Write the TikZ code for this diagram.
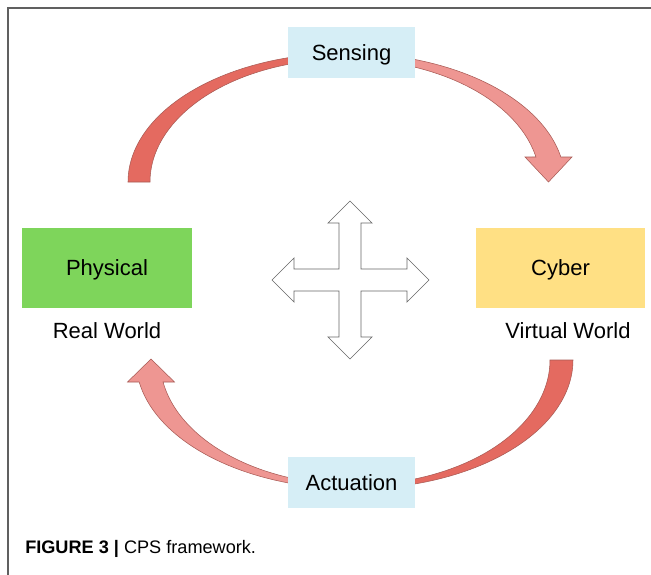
\documentclass[tikz,border=0pt]{standalone}
\usepackage{fontspec}
\setmainfont{Liberation Sans}
\definecolor{skyb}{HTML}{D6EEF6}
\definecolor{grn}{HTML}{7ED55B}
\definecolor{yel}{HTML}{FFE084}
\definecolor{arrD}{HTML}{E46A60}
\definecolor{arrL}{HTML}{EE9692}
\definecolor{arrE}{HTML}{A85A54}
\definecolor{frm}{HTML}{606060}
\begin{document}
\begin{tikzpicture}[x=0.75pt,y=-0.75pt,
  lab/.style={font=\fontsize{16.5}{18}\selectfont, text height=11.8pt, text depth=0pt, inner sep=0pt},
  stagebox/.style={lab, fill=skyb, minimum width=95.25pt, minimum height=38.25pt},
  worldbox/.style={lab, minimum width=127.5pt, minimum height=60pt},
  arcshape/.style={draw=arrE, line width=0.4pt},
  crossshape/.style={fill=white, draw=gray!80!black, line width=0.5pt}
]
\useasboundingbox (0,0) rectangle (651,575);
\fill[white] (0,0) rectangle (651,575);
% frame
\draw[frm, line width=0.9pt] (8,575) -- (8,8) -- (651,8);

% top arc, left (dark) piece
\path[arcshape, fill=arrD] plot[domain=180:90, samples=60] ({346.5+218.5*cos(\x)},{182-129*sin(\x)})
  -- plot[domain=90:180, samples=60] ({345+195*cos(\x)},{182-123*sin(\x)}) -- cycle;
% top arc, right (light) piece with head
\path[arcshape, fill=arrL] plot[domain=90:11.17, samples=60] ({346.5+218.5*cos(\x)},{182-129*sin(\x)})
  -- (572,157) -- (548.5,182) -- (525,157)
  -- plot[domain=11.73:90, samples=60] ({345+195*cos(\x)},{182-123*sin(\x)}) -- cycle;
% bottom arc, right (dark) piece
\path[arcshape, fill=arrD] plot[domain=0:90, samples=60] ({354.5+218.5*cos(\x)},{360+129*sin(\x)})
  -- plot[domain=90:0, samples=60] ({355+195*cos(\x)},{360+125*sin(\x)}) -- cycle;
% bottom arc, left (light) piece with head
\path[arcshape, fill=arrL] plot[domain=90:170.18, samples=60] ({354.5+218.5*cos(\x)},{360+129*sin(\x)})
  -- (127.5,382) -- (151,359) -- (174.5,382)
  -- plot[domain=169.86:90, samples=60] ({355+195*cos(\x)},{360+125*sin(\x)}) -- cycle;

% boxes
\node[stagebox] (sensing) at (351.5,52.5) {Sensing};
\node[stagebox] (actuation) at (351.5,482.5) {Actuation};
\node[worldbox, fill=grn] (physical) at (107,268) {Physical};
\node[worldbox, fill=yel, minimum width=126.75pt] (cyber) at (560.5,268) {Cyber};
\node[lab] (real) at (107,331) {Real World};
\node[lab] (virtual) at (568,331) {Virtual World};

% four-way arrow
\path[crossshape] (350,201) -- (372,223) -- (361,223) -- (361,269) -- (407,269) -- (407,258)
  -- (429,280) -- (407,302) -- (407,291) -- (361,291) -- (361,337) -- (372,337)
  -- (350,359) -- (328,337) -- (339,337) -- (339,291) -- (294,291) -- (294,302)
  -- (272,280) -- (294,258) -- (294,269) -- (339,269) -- (339,223) -- (328,223) -- cycle;

% caption
\node[anchor=west, inner sep=0pt, font=\fontsize{13.6}{15}\selectfont, text height=9.8pt, text depth=0pt] (caption) at (25,547)
  {\textbf{FIGURE 3 |} CPS framework.};
\end{tikzpicture}
\end{document}
